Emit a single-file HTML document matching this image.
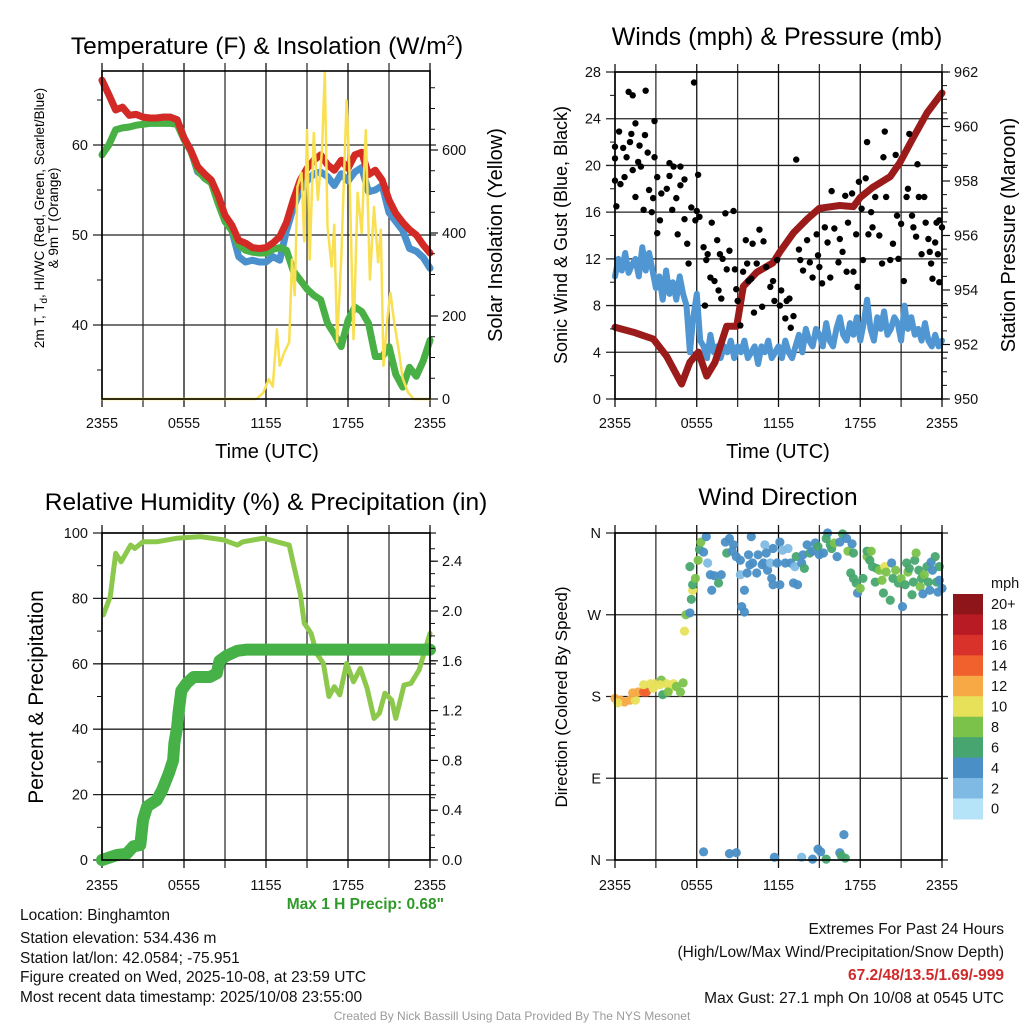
<!DOCTYPE html>
<html><head><meta charset="utf-8"><title>Mesonet Meteogram</title>
<style>
html,body{margin:0;padding:0;background:#fff;}
svg{display:block;font-family:"Liberation Sans",Arial,sans-serif;}
</style></head>
<body>
<svg id="chart" width="1024" height="1024" viewBox="0 0 1024 1024" xmlns="http://www.w3.org/2000/svg">
<rect x="0" y="0" width="1024" height="1024" fill="#fff"/>
<g id="layer-grid"></g>
<g id="layer-data"></g>
<g id="layer-axes"></g>

<text x="267" y="54" font-size="24.5" text-anchor="middle">Temperature (F) &amp; Insolation (W/m<tspan font-size="15" dy="-9">2</tspan><tspan dy="9">)</tspan></text>
<text x="777" y="45" font-size="25" text-anchor="middle">Winds (mph) &amp; Pressure (mb)</text>
<text x="266" y="510" font-size="24.5" text-anchor="middle">Relative Humidity (%) &amp; Precipitation (in)</text>
<text x="778" y="505" font-size="24.5" text-anchor="middle">Wind Direction</text>

<text x="267" y="458" font-size="20" text-anchor="middle">Time (UTC)</text>
<text x="778" y="458" font-size="20" text-anchor="middle">Time (UTC)</text>

<text transform="translate(44,218) rotate(-90)" font-size="13.5" text-anchor="middle">2m T, T<tspan font-size="10" dy="3">d</tspan><tspan dy="-3">, HI/WC (Red, Green, Scarlet/Blue)</tspan></text>
<text transform="translate(58,218) rotate(-90)" font-size="13.5" text-anchor="middle">&amp; 9m T (Orange)</text>
<text transform="translate(502,235) rotate(-90)" font-size="20" text-anchor="middle">Solar Insolation (Yellow)</text>
<text transform="translate(567,235) rotate(-90)" font-size="18" text-anchor="middle">Sonic Wind &amp; Gust (Blue, Black)</text>
<text transform="translate(1015,235) rotate(-90)" font-size="20" text-anchor="middle">Station Pressure (Maroon)</text>
<text transform="translate(43,697) rotate(-90)" font-size="21" text-anchor="middle">Percent &amp; Precipitation</text>
<text transform="translate(567,697) rotate(-90)" font-size="17" text-anchor="middle">Direction (Colored By Speed)</text>

<text x="444" y="909" font-size="15.5" font-weight="bold" fill="#2f9a2a" text-anchor="end">Max 1 H Precip: 0.68"</text>

<g font-size="15.5" fill="#111">
<text x="20" y="920">Location: Binghamton</text>
<text x="20" y="943">Station elevation: 534.436 m</text>
<text x="20" y="963">Station lat/lon: 42.0584; -75.951</text>
<text x="20" y="982">Figure created on Wed, 2025-10-08, at 23:59 UTC</text>
<text x="20" y="1002">Most recent data timestamp: 2025/10/08 23:55:00</text>
</g>
<g font-size="15.5" fill="#111" text-anchor="end">
<text x="1004" y="934">Extremes For Past 24 Hours</text>
<text x="1004" y="957">(High/Low/Max Wind/Precipitation/Snow Depth)</text>
<text x="1004" y="980" font-weight="bold" fill="#d02a2a">67.2/48/13.5/1.69/-999</text>
<text x="1004" y="1003">Max Gust: 27.1 mph On 10/08 at 0545 UTC</text>
</g>
<text x="512" y="1020" font-size="12" fill="#9a9a9a" text-anchor="middle">Created By Nick Bassill Using Data Provided By The NYS Mesonet</text>
</svg>

<script>
// ---------- data ----------
const timeTickHours = [0, 6, 12, 18, 24];
const timeTickLabels = ["2355", "0555", "1155", "1755", "2355"];
const halfHourSteps = [0,0.5,1,1.5,2,2.5,3,3.5,4,4.5,5,5.5,6,6.5,7,7.5,8,8.5,9,9.5,10,10.5,11,11.5,12,12.5,13,13.5,14,14.5,15,15.5,16,16.5,17,17.5,18,18.5,19,19.5,20,20.5,21,21.5,22,22.5,23,23.5,24];
const tempRed = [67.2,65.6,63.9,64.2,63.3,63.4,63.1,63.0,63.0,63.1,63.1,62.8,60.8,59.4,57.6,56.8,56.1,54.4,52.2,51.1,49.4,49.1,48.6,48.5,48.6,49.1,49.8,51.4,53.9,56.1,57.4,58.3,58.9,57.8,57.2,58.3,57.4,58.9,59.2,56.7,57.2,56.1,53.9,52.4,51.4,50.6,50.0,48.9,48.0];
const tempGreen = [58.9,60.0,61.7,61.9,62.0,62.2,62.3,62.4,62.4,62.4,62.4,62.3,60.6,59.3,57.2,56.3,55.8,53.5,51.5,50.5,48.9,48.3,48.1,48.0,48.0,48.4,48.6,48.3,46.0,45.0,44.0,43.3,42.8,40.2,39.0,37.6,40.5,42.0,41.5,40.2,36.5,36.5,37.6,34.5,33.1,35.3,34.3,36.0,38.3];
const tempBlue = [67.2,65.6,63.9,64.2,63.3,63.4,63.1,63.0,63.0,63.1,63.1,62.8,60.8,59.4,57.0,56.5,56.0,54.2,52.0,50.5,47.6,47.0,47.2,47.0,47.0,47.6,47.2,50.5,53.0,55.0,56.0,56.8,57.0,56.5,55.5,56.8,56.0,57.0,57.5,54.8,55.0,55.5,52.5,51.5,50.5,48.5,48.2,47.5,46.3];
const solarHours = [0,11.3,11.8,12.2,12.5,12.8,13.0,13.3,13.7,13.9,14.1,14.3,14.6,14.8,15.0,15.2,15.5,15.8,16.1,16.3,16.5,16.8,17.0,17.2,17.5,17.9,18.1,18.4,18.7,19.0,19.3,19.6,19.9,20.2,20.4,20.6,20.9,21.1,21.4,21.7,22.0,22.4,22.8,24];
const solarValues = [0,0,15,48,30,168,80,110,137,336,250,511,545,380,648,336,641,480,600,787,415,319,420,137,336,720,550,144,497,400,648,288,463,330,408,80,200,256,180,120,50,16,0,0];

const windHours = []; for (let i = 0; i <= 96; i++) windHours.push(i / 4);
const windSpeed = [10.5,12,11,12.5,10.8,11.5,12,10.5,13,11,12.5, 11,9.5,10.5,8.5,11,9,10,8.5,10.5,9,8, 4,7,9,5,4.5,3.5,5.5,4,4.5,3.5,4.5, 4,5,3.5,4.5,4,5,3.5,4,4.5,3,4.5,4,5,3.5,4,4.5,3.5,5,4,3.5,4.5, 5.5,4,6,5,4.5,6,5.5,4.5,6.5,5,4.5,6,7,5.5,5,6.5,5.5,7,5,6.5,8.5,6,5,7,6,7.5,5.5,6,7,6.5,5,8,6,7,5.5,6,5,6.5,5,4.5,5.5,4.5,5];
const pressureHours = [0,1.35,2.81,3.79,4.89,5.5,6.12,6.73,7.34,8.2,8.93,9.42,10.4,11.6,12.1,13.1,14.1,15.0,16.5,17.5,18.0,18.9,20.2,20.9,21.9,22.9,24];
const pressureValues = [952.63,952.45,952.2,951.57,950.55,951.35,951.72,950.84,951.35,952.67,952.67,954.13,954.65,955.0,955.4,956.1,956.6,957.0,957.1,957.06,957.4,957.76,958.16,958.67,959.6,960.5,961.23];
const gustHours = [1,1.3,2.25,5.8,0,0.3,0.6,0,0.85,1.1,1.2,1.5,1.8,2.2,2.4,2.9,2.9,0,0.4,0.7,1.3,1.7,1.9,0.1,1.5,2.1,2.5,2.7,2.8,3.1,3.3,3.1,3.4,3.8,4.0,4.0,4.3,4.8,4.8,5.1,4.5,4.2,4.6,5.1,5.3,5.6,5.4,6.1,6.0,6.2,5.9,6.5,6.7,6.8,7.1,7.0,6.6,7.3,7.6,7.5,7.7,7.8,7.9,8.1,8.2,8.4,8.7,8.8,8.9,9.0,9.2,9.4,9.6,9.7,9.8,10.0,10.1,10.2,10.4,10.6,10.8,10.9,11.1,11.4,11.6,11.7,11.9,12.2,12.1,12.5,12.6,12.8,12.9,13.1,13.3,13.5,13.6,13.8,14.1,14.3,14.5,14.8,14.9,15.0,15.2,15.4,15.6,15.8,15.9,16.1,16.4,16.5,16.7,16.9,17.0,17.1,17.4,17.5,17.7,17.8,17.9,18.1,18.2,18.4,18.5,18.6,18.8,18.9,19.1,19.4,19.7,19.6,19.8,19.9,20.2,20.4,20.6,20.7,20.8,21.0,21.2,21.4,21.5,21.6,21.8,21.9,22.1,22.2,22.3,22.5,22.7,22.8,23.0,23.1,23.2,23.3,23.5,23.6,23.7,23.8,23.8,24];
const gustValues = [26.3,26.0,26.4,27.1,21.6,22.9,21.5,20.6,20.7,22,22.7,23.6,21.7,22.6,21.1,23.8,20.7,18.7,18.4,19,19.6,20.3,19.9,16.5,17.3,16.2,17.9,16,17.2,14.2,15.3,19,17.6,18,19.1,20.2,19.9,19.9,18.3,18.8,17.2,16.2,14.1,15.4,13.3,16.4,11.6,19.2,16.1,15.6,15.3,13,11.9,12.4,15.1,10.4,8,10.1,9.3,13.6,12.4,8.6,12,15.9,11.1,12.7,16.1,11.1,9.4,8.4,6.3,10.9,13.6,11.6,10.1,10.3,13.3,7.4,11.6,14.5,7.9,13.5,11.3,9.6,10.1,8.4,11.9,9.3,8,6.9,8.4,8.6,6.1,7.1,20.5,12.8,11.9,11,13.6,11.7,10.4,14.1,12.3,11.3,9.9,14.7,13.4,10.4,17.8,14.6,11.7,13.7,12.6,17.4,10.9,15.1,17.6,10.9,14.1,9.6,18.6,16.3,11.9,18.9,22,14.1,16,14.7,17.3,14,20.7,11.6,22.9,17.3,11.9,13.3,20.9,15.7,12,15,10.1,17.3,18,22.7,15.7,14.7,13.9,20.1,17.3,12.4,17.3,15.1,13.7,12.6,11.6,10.3,13.4,15.1,12.4,15.3,10,14.7];

const rhHours = [0.1,0.6,1.0,1.4,2.1,2.4,3.0,4.0,5.5,7.2,8.9,9.9,10.3,11.8,12.8,13.7,14.0,14.5,14.8,15.3,15.7,16.2,16.6,17.0,17.4,17.9,18.4,18.9,19.4,19.9,20.3,20.7,21.2,21.5,22.1,22.6,23.2,24];
const rhValues = [75,80.5,93.8,91.2,96.3,95.3,97.3,97.3,98.4,98.9,97.9,96.3,97.3,98.4,97.3,96.3,90.7,81.5,72.4,69.3,63.2,60.1,50,53,50.5,60.1,54.5,58.6,52.5,43.3,44.9,51,48.9,43.3,53.5,54,58.1,69.3];
const precipHours = [0,1.1,1.8,2.3,2.8,3.0,3.3,4.0,4.4,4.9,5.2,5.3,5.5,5.6,5.8,6.2,6.7,7.9,8.4,8.6,9.1,9.9,10.6,24];
const precipValues = [0,0.04,0.05,0.11,0.12,0.32,0.43,0.48,0.56,0.70,0.80,0.94,1.07,1.18,1.36,1.42,1.47,1.47,1.50,1.60,1.64,1.68,1.69,1.69];

const dirHours = [0,0.4,0.7,1.1,1.5,0.2,1.3,1.7,2.1,2.3,2.1,2.6,2.9,3.4,3.3,3.5,3.8,4.0,4.3,4.5,4.8,5.0,2.8,3.9, 5.1,5.2,5.5,5.6,5.7,5.7,5.9,5.5,6.1,6.2,6.3,6.7,6.5,6.8, 7,7.3,7.1,7.6,7.8,8.1,8.2,8.4,8.7,8.6,8.9,9.2,9.2,9.3,9.5,9.5,9.7,9.8,9.9,10.0,10.1,10.4,10.5,10.8,10.9,11.0,11.1,11.2,11.4,11.5,11.6,11.6,11.9,12.1,12.1,12.3,12.5,12.7,12.9,13.1,13.2,13.3,13.4,13.7,13.8,13.9,14.1,14.3,14.5,14.7,14.9,15.0,15.3,15.6,15.5,15.8,15.9,16.1,16.3,16.5,16.7,17,17.1,17.4,17.5, 17.3,17.5,17.7,17.8,18,18.2,18.5,18.5,18.7,18.8,18.9,19.1,19.2,19.4,19.6,19.7,19.8,19.9,20.2,20.3,20.4,20.6,20.8,21.0,21.1,21.3,21.4,21.5,21.6,21.8,21.9,22.0,22.1,22.3,22.4,22.5,22.6,22.7,22.9,23.0,23.1,23.2,23.3,23.5,23.6,23.7,23.8,23.8,24, 6.5,8.4,8.9,11.7,13.7,14.5,14.9,15.1,15.5,16.5,16.6,16.9,16.8];
const dirValues = [178,176,174,176,176,173,184,185,185,185,193,194,194,198,193,182,194,189,194,191,185,195,189,185, 252,270,272,287,297,303,310,323,330,342,350,356,339,327, 314,313,297,305,314,350,338,354,347,340,334,330,314,279,273,297,316,336,325,356,327,316,336,325,327,347,338,319,327,310,343,303,327,350,303,341,327,343,327,305,323,334,303,327,336,321,347,338,340,349,345,336,338,360,354,347,343,349,334,350,359,354,340,348,338, 316,310,305,294,299,310,334,340,330,340,323,306,321,319,308,294,323,317,286,327,310,319,305,310,279,303,327,317,321,292,306,330,338,319,301,310,293,314,323,306,297,328,319,334,306,295,308,323,299, 9,7,8,3,3,1,12,9,1,8,5,2,28];
const dirSpeeds = [12,12,13,12,11,10,12,13,14,15,10,10,11,8,10,7,10,10,10,9,8,9,11,9, 10,8,5,7,10,7,8,7,8,7,8,4,4,2, 4,4,4,6,4,4,6,4,4,4,4,4,3,4,4,4,4,4,4,4,4,4,4,4,4,3,4,4,3,4,4,4,4,4,4,3,4,3,4,4,2,6,4,4,4,6,4,6,4,4,6,4,4,4,6,6,6,8,4,4,6,4,8,4,6, 6,6,6,4,8,6,8,6,6,8,6,6,6,8,8,6,10,8,6,4,6,8,6,8,4,6,6,8,6,6,6,6,8,6,8,6,4,8,6,6,4,4,4,6,6,4,4,6,4, 4,4,4,4,2,4,4,4,6,4,6,6,4];

const tempTicks = [40, 50, 60];
const solarTicks = [0, 200, 400, 600];
const windTicks = [0, 4, 8, 12, 16, 20, 24, 28];
const pressureTicks = [950, 952, 954, 956, 958, 960, 962];
const rhTicks = [0, 20, 40, 60, 80, 100];
const precipTicks = [0, 0.4, 0.8, 1.2, 1.6, 2.0, 2.4];
const dirTicks = [0, 90, 180, 270, 360];
const dirLabels = ["N", "E", "S", "W", "N"];
const speedBins = ["0", "2", "4", "6", "8", "10", "12", "14", "16", "18", "20+"];
const speedColors = ["#b5e3f8","#7fbae4","#4a8fc6","#47a66f","#7bc24b","#e7e15a","#f6a945","#f0612d","#d9322a","#b81b23","#8e1519"];

// ---------- scales ----------
const NS = "http://www.w3.org/2000/svg";
const gridL = document.getElementById("layer-grid");
const dataL = document.getElementById("layer-data");
const axesL = document.getElementById("layer-axes");
const P1 = {x0:102, x1:430, y0:71, y1:399};
const P2 = {x0:615, x1:942, y0:72, y1:399};
const P3 = {x0:102, x1:430, y0:533, y1:860};
const P4 = {x0:615, x1:942, y0:533, y1:860};
const xTime = (p, h) => p.x0 + h * (p.x1 - p.x0) / 24;
const yTemp = v => 325 - (v - 40) * 9;
const ySolar = w => 399 - w * 0.415;
const yWind = v => 399 - v * 327 / 28;
const yPres = p => 399 - (p - 950) * 327 / 12;
const yRH = v => 860 - v * 3.27;
const yPrecip = v => 860 - v * 124.5;
const yDir = d => 860 - d * 327 / 360;

function el(tag, attrs, parent) {
  const e = document.createElementNS(NS, tag);
  for (const k in attrs) e.setAttribute(k, attrs[k]);
  parent.appendChild(e);
  return e;
}
function line(x1, y1, x2, y2, w, parent, color) {
  return el("line", {x1:x1, y1:y1, x2:x2, y2:y2, stroke: color || "#111", "stroke-width": w}, parent);
}
function text(x, y, s, anchor, size, parent) {
  const t = el("text", {x:x, y:y, "font-size":size, "text-anchor":anchor, fill:"#111"}, parent);
  t.textContent = s;
  return t;
}
function pathFrom(xs, ys) {
  let d = "";
  for (let i = 0; i < xs.length; i++) d += (i ? "L" : "M") + xs[i].toFixed(1) + "," + ys[i].toFixed(1);
  return d;
}

// ---------- axes and grids ----------
function timeGrid(p, labelY) {
  for (let h = 0; h <= 24; h += 3) {
    const x = xTime(p, h);
    const g = line(x, p.y0 - 8, x, p.y1 + 8, 1.3, gridL, (h % 6 === 0) ? "#111" : "#333");
    
    
  }
  timeTickHours.forEach((h, i) => {
    const t = text(xTime(p, h), labelY, timeTickLabels[i], "middle", 14.5, axesL);
    
    
  });
}
function hGrid(p, ys) {
  ys.forEach(y => {
    const g = line(p.x0 - 9, y, p.x1 + 6, y, 1.3, gridL, "#222");
    
    
  });
}
function frame(p, name) {
  const r = el("rect", {x:p.x0, y:p.y0, width:p.x1 - p.x0, height:p.y1 - p.y0, fill:"none", stroke:"#000", "stroke-width":1.6}, axesL);
  
  
}
function leftTicks(p, vals, fn, labels, minor) {
  vals.forEach((v, i) => {
    const y = fn(v);
    const t = text(p.x0 - 14, y + 5, labels[i], "end", 14.5, axesL);
    
    
  });
  (minor || []).forEach(v => {
    const m = line(p.x0 - 5, fn(v), p.x0, fn(v), 1, axesL);
    
    
  });
}
function rightTicks(p, vals, fn, labels, minor) {
  vals.forEach((v, i) => {
    const y = fn(v);
    const tk = line(p.x1, y, p.x1 + 8, y, 1.2, axesL);
    
    
    const t = text(p.x1 + 12, y + 5, labels[i], "start", 14.5, axesL);
    
    
  });
  (minor || []).forEach(v => {
    const m = line(p.x1, fn(v), p.x1 + 5, fn(v), 1, axesL);
    
    
  });
}

// Panel 1
timeGrid(P1, 428);
hGrid(P1, tempTicks.map(yTemp));
frame(P1, "temperature-plot-frame");
leftTicks(P1, tempTicks, yTemp, tempTicks.map(String), [35, 45, 55, 65]);
rightTicks(P1, solarTicks, ySolar, solarTicks.map(String), [50,100,150,250,300,350,450,500,550,650,700,750]);
// Panel 2
timeGrid(P2, 428);
hGrid(P2, windTicks.map(yWind));
frame(P2, "wind-plot-frame");
leftTicks(P2, windTicks, yWind, windTicks.map(String), [2,6,10,14,18,22,26]);
const presMinor = []; for (let p = 950.5; p < 962; p += 0.5) if (Math.abs(p % 2) > 0.01) presMinor.push(p);
rightTicks(P2, pressureTicks, yPres, pressureTicks.map(String), presMinor);
// Panel 3
timeGrid(P3, 890);
hGrid(P3, rhTicks.map(yRH));
frame(P3, "humidity-plot-frame");
leftTicks(P3, rhTicks, yRH, rhTicks.map(String), [10,30,50,70,90]);
const prMinor = []; for (let v = 0.1; v < 2.6; v += 0.1) prMinor.push(v);
rightTicks(P3, precipTicks, yPrecip, precipTicks.map(v => v.toFixed(1)), prMinor);
// Panel 4
timeGrid(P4, 890);
hGrid(P4, dirTicks.map(yDir));
frame(P4, "direction-plot-frame");
leftTicks(P4, dirTicks, yDir, dirLabels, []);

// ---------- series ----------
function series(p, hours, vals, yfn, color, width, name) {
  const xs = hours.map(h => xTime(p, h));
  const ys = vals.map(yfn);
  const s = el("path", {d: pathFrom(xs, ys), fill:"none", stroke:color, "stroke-width":width, "stroke-linejoin":"round", "stroke-linecap":"round"}, dataL);
  
  
  return s;
}
series(P1, halfHourSteps, tempBlue, yTemp, "#4a90cc", 7, "wind-chill-line");
series(P1, halfHourSteps, tempGreen, yTemp, "#48b045", 7, "dewpoint-line");
series(P1, halfHourSteps, tempRed, yTemp, "#d42a25", 7, "temperature-line");
series(P1, solarHours, solarValues, ySolar, "#f9e052", 2.5, "solar-line");

series(P2, windHours, windSpeed, yWind, "#4f96d2", 6, "wind-speed-line");
series(P2, pressureHours, pressureValues, yPres, "#9b1a1a", 7, "pressure-line");
gustHours.forEach((h, i) => {
  const c = el("circle", {cx: xTime(P2, h), cy: yWind(gustValues[i]), r: 3.2, fill:"#000"}, dataL);
  
  
});

series(P3, rhHours, rhValues, yRH, "#8cc84b", 5, "humidity-line");
series(P3, precipHours, precipValues, yPrecip, "#45b146", 12, "precipitation-line");

dirHours.forEach((h, i) => {
  const bin = Math.min(10, Math.floor(dirSpeeds[i] / 2));
  const c = el("circle", {cx: xTime(P4, h), cy: yDir(dirValues[i]), r: 4.6, fill: speedColors[bin], "fill-opacity": 0.95}, dataL);
  
  
});

// ---------- colorbar ----------
const cbTop = 594, cbH = 20.45;
const unit = text(991, 588, "mph", "start", 14.5, axesL);


speedBins.forEach((lab, i) => {
  const k = speedBins.length - 1 - i;
  const r = el("rect", {x:953, y: cbTop + i * cbH, width:30, height: cbH + 0.5, fill: speedColors[k]}, axesL);
  
  
  const t = text(991, cbTop + i * cbH + cbH / 2 + 5, speedBins[k], "start", 14.5, axesL);
  
  
});
</script>
</body></html>
